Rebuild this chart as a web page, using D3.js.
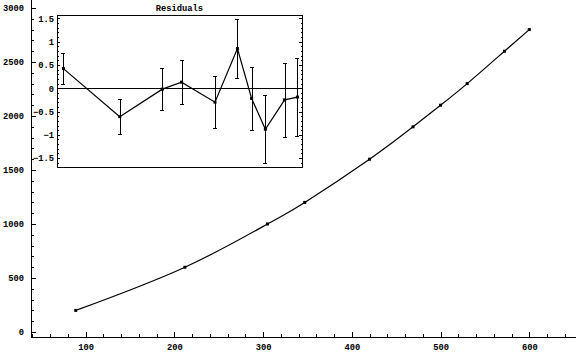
<!DOCTYPE html>
<html>
<head>
<meta charset="utf-8">
<script src="https://cdn.jsdelivr.net/npm/d3@7"></script>
<style>
  body { margin: 0; background: #fff; }
  svg { display: block; }
  text { font-family: "Liberation Mono", "DejaVu Sans Mono", monospace; font-size: 8.75px; font-weight: bold; fill: #000; }
</style>
</head>
<body>
<div id="chart"></div>
<script>
// measured data
const xVals = [89, 212, 305, 347, 420, 469, 500, 530, 572, 600];
const yVals = [200, 600, 1000, 1200, 1600, 1900, 2100, 2300, 2600, 2800];

// residuals of the fit and their error bars
const residuals = [0.42, -0.61, -0.02, 0.13, -0.30, 0.85, -0.22, -0.88, -0.25, -0.19];
const resErrors = [0.33, 0.37, 0.45, 0.47, 0.56, 0.64, 0.67, 0.73, 0.80, 0.84];

const xTicks = [100, 200, 300, 400, 500, 600];
const yTicks = [0, 500, 1000, 1500, 2000, 2500, 3000];
const resTicks = [-1.5, -1, -0.5, 0, 0.5, 1, 1.5];

const W = 576, H = 355;
const svg = d3.select("#chart").append("svg")
    .attr("width", W).attr("height", H);

// main plot
const x = d3.scaleLinear().domain([38.6, 652.6]).range([31, 576]);
const y = d3.scaleLinear().domain([-46, 3074]).range([337, 0]);

const points = xVals.map((d, i) => [d, yVals[i]]);

const minorX = d3.range(40, 652, 20).filter(v => v % 100 !== 0);
const minorY = d3.range(0, 3074, 100).filter(v => v % 500 !== 0);

const gx = svg.append("g").attr("transform", "translate(0,337)");
gx.call(d3.axisBottom(x).tickValues(xTicks).tickSize(-5).tickSizeOuter(0).tickPadding(7).tickFormat(d3.format("d")));
gx.append("g").call(d3.axisBottom(x).tickValues(minorX).tickSize(-3).tickSizeOuter(0).tickFormat(""));

const gy = svg.append("g").attr("transform", "translate(31,0)");
gy.call(d3.axisLeft(y).tickValues(yTicks).tickSize(-5).tickSizeOuter(0).tickPadding(7).tickFormat(d3.format("d")));
gy.append("g").call(d3.axisLeft(y).tickValues(minorY).tickSize(-2.5).tickSizeOuter(0).tickFormat(""));

svg.selectAll(".domain").remove();
svg.selectAll(".tick line").attr("shape-rendering", "crispEdges");
svg.append("line").attr("x1", 31).attr("x2", 576).attr("y1", 337.5).attr("y2", 337.5).attr("stroke", "#000");
svg.append("line").attr("x1", 31.5).attr("x2", 31.5).attr("y1", 0).attr("y2", 337).attr("stroke", "#000");

svg.append("path")
    .datum(points)
    .attr("fill", "none")
    .attr("stroke", "#000")
    .attr("stroke-width", 1.2)
    .attr("d", d3.line().x(d => x(d[0])).y(d => y(d[1])).curve(d3.curveNatural));

svg.append("g").selectAll("rect")
    .data(points)
    .join("rect")
    .attr("x", d => x(d[0]) - 1.5)
    .attr("y", d => y(d[1]) - 1.5)
    .attr("width", 3).attr("height", 3)
    .attr("fill", "#000");

// residuals inset
const box = { left: 57, right: 302, top: 15, bottom: 167 };
const rx = d3.scaleLinear().domain([75, 610]).range([box.left, box.right]);
const ry = d3.scaleLinear().domain([-1.69, 1.57]).range([box.bottom, box.top]);

const inset = svg.append("g");
inset.append("rect")
    .attr("x", box.left + 0.5).attr("y", box.top + 0.5)
    .attr("width", box.right - box.left).attr("height", box.bottom - box.top)
    .attr("fill", "#fff").attr("stroke", "#000");

inset.append("text")
    .attr("x", (box.left + box.right) / 2).attr("y", 11)
    .attr("text-anchor", "middle")
    .text("Residuals");

const minorR = d3.range(-1.6, 1.6, 0.1).map(v => Math.round(v * 10) / 10).filter(v => Math.abs(v * 2 - Math.round(v * 2)) > 1e-6);

const gl = inset.append("g").attr("transform", `translate(${box.left},0)`);
gl.call(d3.axisLeft(ry).tickValues(resTicks).tickSize(-3).tickSizeOuter(0).tickPadding(3).tickFormat(d3.format("")));
gl.append("g").call(d3.axisLeft(ry).tickValues(minorR).tickSize(-1.5).tickSizeOuter(0).tickFormat(""));
const gr = inset.append("g").attr("transform", `translate(${box.right},0)`);
gr.call(d3.axisRight(ry).tickValues(resTicks).tickSize(-3).tickSizeOuter(0).tickFormat(""));
gr.append("g").call(d3.axisRight(ry).tickValues(minorR).tickSize(-1.5).tickSizeOuter(0).tickFormat(""));
inset.selectAll(".domain").remove();
inset.selectAll(".tick line").attr("shape-rendering", "crispEdges");

inset.append("line")
    .attr("x1", box.left).attr("x2", box.right)
    .attr("y1", Math.round(ry(0)) + 0.5).attr("y2", Math.round(ry(0)) + 0.5)
    .attr("stroke", "#000");

const res = xVals.map((d, i) => ({ x: d, r: residuals[i], e: resErrors[i] }));

inset.append("path")
    .datum(res)
    .attr("fill", "none").attr("stroke", "#000").attr("stroke-width", 1.2)
    .attr("d", d3.line().x(d => rx(d.x)).y(d => ry(d.r)));

const bars = inset.append("g").attr("stroke", "#000").attr("shape-rendering", "crispEdges");
bars.selectAll(".eb").data(res).join("line")
    .attr("x1", d => Math.round(rx(d.x)) + 0.5).attr("x2", d => Math.round(rx(d.x)) + 0.5)
    .attr("y1", d => ry(d.r + d.e)).attr("y2", d => ry(d.r - d.e));
bars.selectAll(".capT").data(res).join("line")
    .attr("x1", d => rx(d.x) - 2).attr("x2", d => rx(d.x) + 2)
    .attr("y1", d => Math.round(ry(d.r + d.e)) + 0.5).attr("y2", d => Math.round(ry(d.r + d.e)) + 0.5);
bars.selectAll(".capB").data(res).join("line")
    .attr("x1", d => rx(d.x) - 2).attr("x2", d => rx(d.x) + 2)
    .attr("y1", d => Math.round(ry(d.r - d.e)) + 0.5).attr("y2", d => Math.round(ry(d.r - d.e)) + 0.5);

inset.append("g").selectAll("rect")
    .data(res)
    .join("rect")
    .attr("x", d => rx(d.x) - 1.5).attr("y", d => ry(d.r) - 1.5)
    .attr("width", 3).attr("height", 3)
    .attr("fill", "#000");
</script>
</body>
</html>
